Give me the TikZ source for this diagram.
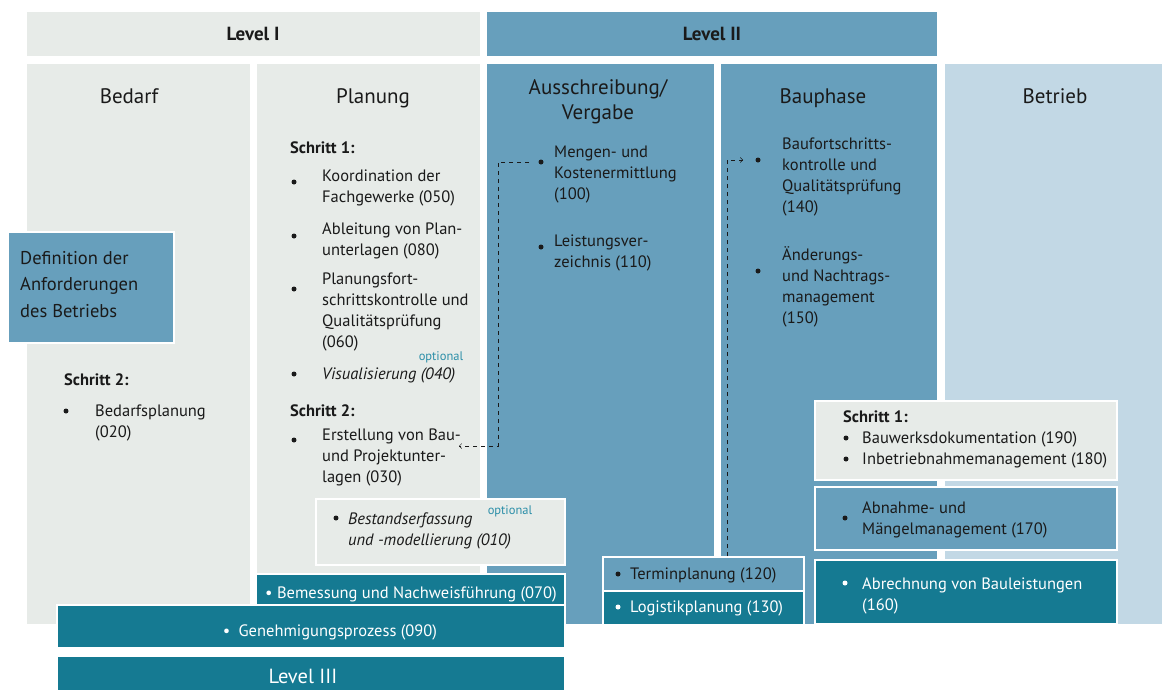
\documentclass[tikz,border=0pt]{standalone}
\usepackage{fontspec}
\setmainfont{PT Sans}
\usetikzlibrary{arrows.meta}

\definecolor{grau}{HTML}{E7EBE8}
\definecolor{mittelblau}{HTML}{679FBC}
\definecolor{hellblau}{HTML}{C2D8E5}
\definecolor{petrol}{HTML}{157A92}
\definecolor{optblau}{HTML}{2B8EA8}
\definecolor{schrift}{HTML}{1A1A1A}

\begin{document}
\begin{tikzpicture} [
            x=1pt, y=-1pt,
            feld/.style = {anchor=north west,inner sep=0pt,outer sep=0pt},
            kasten/.style = {feld,draw=white,line width=2pt},
            kopf/.style = {anchor=base,align=center,text=schrift,font=\fontsize{21}{25}\selectfont},
            ebene/.style = {anchor=base,text=schrift,font=\bfseries\fontsize{19}{22}\selectfont},
            eintrag/.style = {anchor=base west,align=left,inner sep=0pt,text=schrift,font=\fontsize{16.5}{21}\selectfont},
            schritt/.style = {eintrag,font=\bfseries\fontsize{16.5}{21}\selectfont},
            punkt/.style = {circle,inner sep=0pt,minimum size=5pt},
            opt/.style = {text=optblau,inner sep=0pt,font=\fontsize{12.5}{14}\selectfont},
            verweis/.style = {draw,thin,schrift,dash pattern=on 4pt off 4pt,-{Straight Barb[length=2.5pt,width=5pt]}},
        ]
        \useasboundingbox (0,0) rectangle (1162,689);
        % First the bars and the five columns
        \foreach \name/\pos/\w/\h/\farbe in {
                {lvleins/(27,12)/453/44/grau},
                {lvlzwei/(487,12)/450/44/mittelblau},
                {bedarf/(27,64)/223/560/grau},
                {planung/(257,64)/223/510/grau},
                {vergabe/(487,64)/227/560/mittelblau},
                {bauphase/(721,64)/216/560/mittelblau},
                {betrieb/(945,64)/217/560/hellblau}}
            \node[feld,fill=\farbe,minimum width=\w,minimum height=\h] (\name) at \pos {};
        % boxes laid over the columns
        \foreach \name/\pos/\w/\h/\farbe in {
                {anforderung/(8,232)/166/111/mittelblau},
                {bestand/(316,499)/249/66/grau},
                {bemessung/(256,574)/309/31/petrol},
                {genehmigung/(57,605)/508/43/petrol},
                {lvldrei/(57,656)/508/40/petrol},
                {termin/(603,557)/201/34/mittelblau},
                {logistik/(603,591)/201/34/petrol},
                {betriebeins/(815,401)/302/79/grau},
                {abnahme/(815,487)/302/63/mittelblau},
                {abrechnung/(815,560)/302/64/petrol}}
            \node[kasten,fill=\farbe,minimum width=\w,minimum height=\h] (\name) at \pos {};
        % headings (base = last line)
        \node[ebene] (tlvleins) at (253,40) {Level I};
        \node[ebene] (tlvlzwei) at (712,40) {Level II};
        \foreach \name/\pos/\txt in {
                {tbedarf/(129,103)/Bedarf},
                {tplanung/(373,103)/Planung},
                {tvergabe/(598,119)/{Ausschreibung/\\Vergabe}},
                {tbauphase/(823,103)/Bauphase},
                {tbetrieb/(1055,103)/Betrieb}}
            \node[kopf] (\name) at \pos {\txt};
        \node[eintrag,font=\fontsize{18.5}{26.5}\selectfont] (tanforderung) at (20,317) {Definition der\\Anforderungen\\des Betriebs};
        % step labels
        \foreach \name/\pos/\txt in {
                {sbedarf/(64,385)/Schritt 2:},
                {splanungeins/(290,153)/Schritt 1:},
                {splanungzwei/(290,416)/Schritt 2:},
                {sbetrieb/(843,422)/Schritt 1:}}
            \node[schritt] (\name) at \pos {\txt};
        % list entries
        \foreach \name/\pos/\txt in {
                {i020/(95,437)/{Bedarfsplanung\\(020)}},
                {i050/(322,202)/{Koordination der\\Fachgewerke (050)}},
                {i080/(322,255)/{Ableitung von Plan-\\unterlagen (080)}},
                {i060/(322,347)/{Planungsfort-\\schrittskontrolle und\\Qualitätsprüfung\\(060)}},
                {i030/(322,482)/{Erstellung von Bau-\\und Projektunter-\\lagen (030)}},
                {i100/(554,199)/{Mengen- und\\Kostenermittlung\\(100)}},
                {i110/(554,267)/{Leistungsver-\\zeichnis (110)}},
                {i120/(630,579)/{Terminplanung (120)}},
                {i140/(782,212)/{Baufortschritts-\\kontrolle und\\Qualitätsprüfung\\(140)}},
                {i150/(782,323)/{Änderungs-\\und Nachtrags-\\management\\(150)}},
                {i190/(862,443)/{Bauwerksdokumentation (190)}},
                {i180/(862,464)/{Inbetriebnahmemanagement (180)}},
                {i170/(862,534)/{Abnahme- und\\Mängelmanagement (170)}}}
            \node[eintrag] (\name) at \pos {\txt};
        \foreach \name/\pos/\txt in {
                {i040/(322,379)/{Visualisierung (040)}},
                {i010/(348,545)/{Bestandserfassung\\und -modellierung (010)}}}
            \node[eintrag,font=\itshape\fontsize{16.5}{21}\selectfont] (\name) at \pos {\txt};
        \foreach \name/\pos/\txt in {
                {i130/(630,612)/{Logistikplanung (130)}},
                {i160/(862,610)/{Abrechnung von Bauleistungen\\(160)}}}
            \node[eintrag,text=white] (\name) at \pos {\txt};
        \node[eintrag,anchor=base,text=white] (i070) at (411,598) {• Bemessung und Nachweisführung (070)};
        \node[eintrag,anchor=base,text=white] (i090) at (330,636) {•\enspace Genehmigungsprozess (090)};
        \node[kopf,text=white,font=\fontsize{20.5}{24}\selectfont] (tlvldrei) at (303,683) {Level III};
        \node[opt] (opteins) at (441,357) {optional};
        \node[opt] (optzwei) at (510,511) {optional};
        % bullets
        \foreach \name/\pos/\farbe in {
                {p020/(66,411)/schrift},
                {p050/(294,182)/schrift},
                {p080/(294,236)/schrift},
                {p060/(294,289)/schrift},
                {p040/(294,374)/schrift},
                {p030/(294,440)/schrift},
                {p010/(336,518)/schrift},
                {p100/(541,162)/schrift},
                {p110/(541,247)/schrift},
                {p120/(618,574)/schrift},
                {p130/(618,607)/white},
                {p140/(758,160)/schrift},
                {p150/(758,271)/schrift},
                {p190/(846,438)/schrift},
                {p180/(846,459)/schrift},
                {p170/(845,518)/schrift},
                {p160/(845,583)/white}}
            \node[punkt,fill=\farbe] (\name) at \pos {};
        % dashed links
        \coordinate (ausMengen) at (529,162);
        \coordinate (zuErstellung) at (459,446);
        \coordinate (ausTermin) at (727,556);
        \coordinate (zuBaufort) at (743,160);
        \path[verweis] (ausMengen) -| (498,446) -- (zuErstellung);
        \path[verweis] (ausTermin) |- (zuBaufort);
    \end{tikzpicture}
\end{document}
